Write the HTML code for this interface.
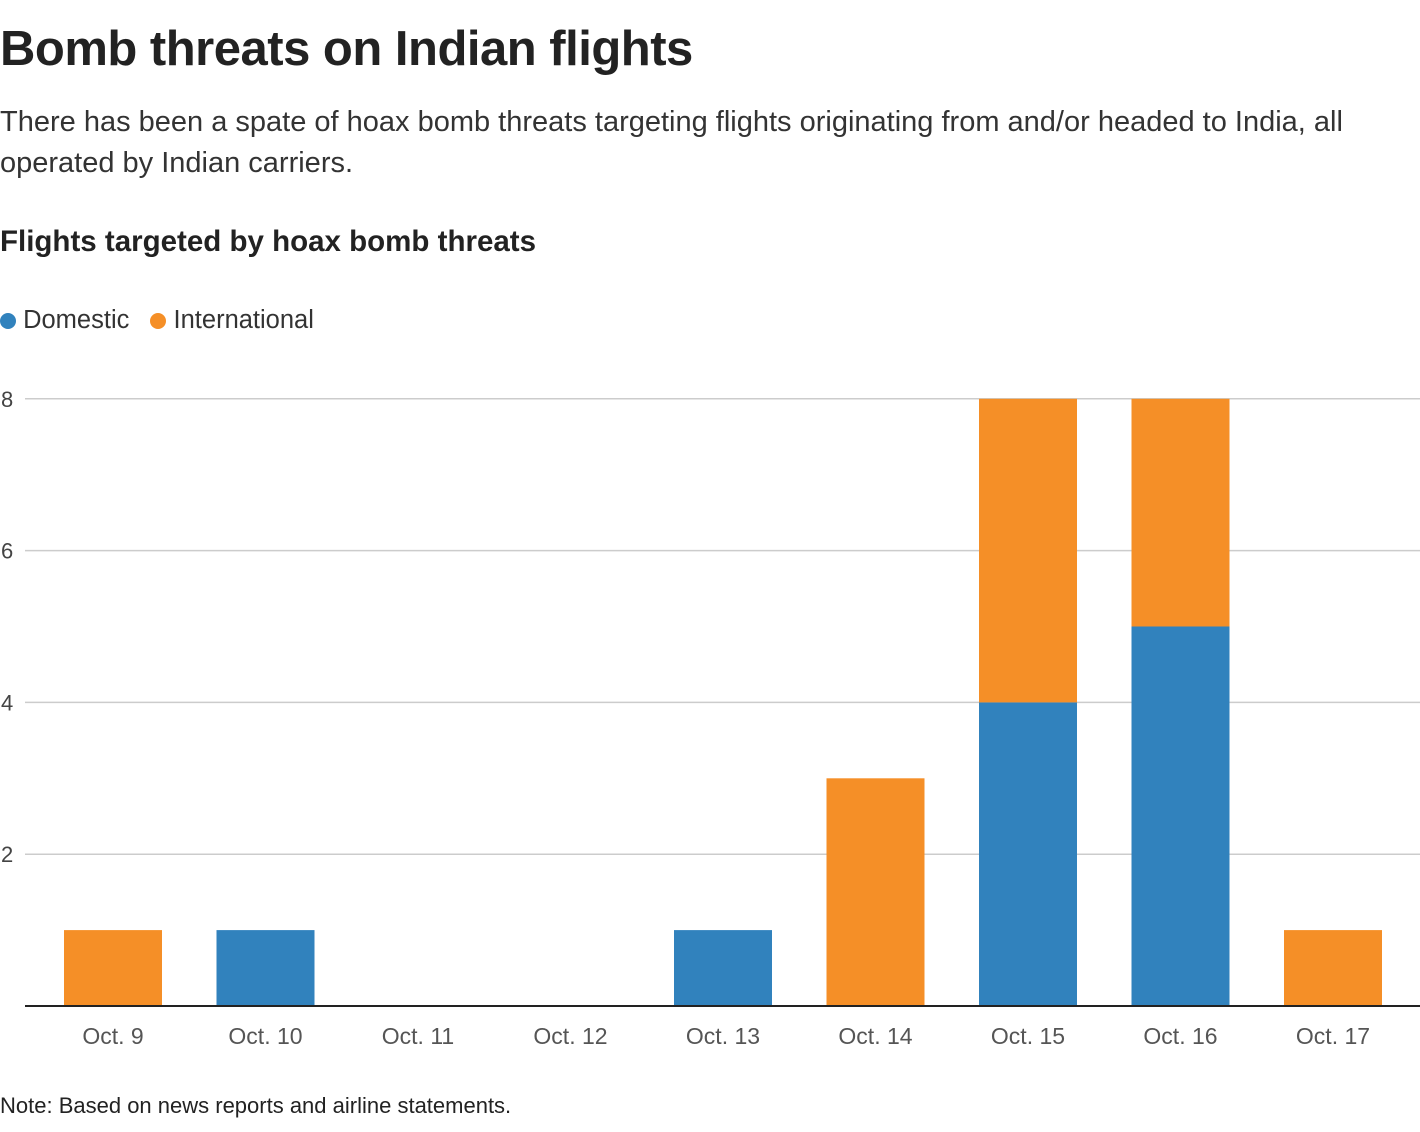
<!DOCTYPE html>
<html><head><meta charset="utf-8">
<style>
body{margin:0;background:#fff;width:1420px;height:1132px;overflow:hidden;font-family:"Liberation Sans",sans-serif;color:#222}
.t{position:absolute;left:0;white-space:nowrap}
</style></head><body>
<div class="t" style="top:21px;font-size:49px;font-weight:bold;letter-spacing:-0.5px">Bomb threats on Indian flights</div>
<div class="t" style="top:102px;font-size:29px;line-height:41px;color:#333;white-space:normal;width:1390px">There has been a spate of hoax bomb threats targeting flights originating from and/or headed to India, all operated by Indian carriers.</div>
<div class="t" style="top:225px;font-size:29.5px;font-weight:bold">Flights targeted by hoax bomb threats</div>
<div class="t" style="top:306px;font-size:25.5px;color:#333">
<span><span style="display:inline-block;width:16px;height:16px;border-radius:50%;background:#3182bd;vertical-align:-1px"></span> Domestic</span>
<span style="margin-left:14px"><span style="display:inline-block;width:16px;height:16px;border-radius:50%;background:#f58f27;vertical-align:-1px"></span> International</span>
</div>
<svg id="chart" width="1420" height="1132" style="position:absolute;left:0;top:0"></svg>
<div class="t" style="top:1093px;font-size:22px;color:#222">Note: Based on news reports and airline statements.</div>
<script>
const categories=["Oct. 9","Oct. 10","Oct. 11","Oct. 12","Oct. 13","Oct. 14","Oct. 15","Oct. 16","Oct. 17"];
const domestic=[0,1,0,0,1,0,4,5,0];
const international=[1,0,0,0,0,3,4,3,1];
const yTicks=[2,4,6,8];
const svg=document.getElementById('chart');
const NS='http://www.w3.org/2000/svg';
const y0=1006,pxPerUnit=75.9;
const y=v=>y0-v*pxPerUnit;
const x=i=>113+i*152.5;
function mk(tag,attrs){const e=document.createElementNS(NS,tag);for(const k in attrs)e.setAttribute(k,attrs[k]);svg.appendChild(e);return e;}
yTicks.forEach(t=>{
 const g=mk('line',{x1:25,x2:1420,y1:y(t),y2:y(t),stroke:'#ccc','stroke-width':1.5});
 
 
 const l=mk('text',{x:1,y:y(t)+8,'font-size':22,fill:'#444','font-family':'Liberation Sans'});
 l.textContent=t;
 
 
});
categories.forEach((c,i)=>{
 const w=98;
 if(domestic[i]>0){
  const r=mk('rect',{x:x(i)-w/2,y:y(domestic[i]),width:w,height:domestic[i]*pxPerUnit,fill:'#3182bd'});
  
  
 }
 if(international[i]>0){
  const r=mk('rect',{x:x(i)-w/2,y:y(domestic[i]+international[i]),width:w,height:international[i]*pxPerUnit,fill:'#f58f27'});
  
  
 }
 const t=mk('text',{x:x(i),y:1044,'font-size':23,fill:'#555','text-anchor':'middle','font-family':'Liberation Sans'});
 t.textContent=c;
 
 
});
const ax=mk('line',{x1:25,x2:1420,y1:y0,y2:y0,stroke:'#222','stroke-width':2});


</script>
</body></html>
